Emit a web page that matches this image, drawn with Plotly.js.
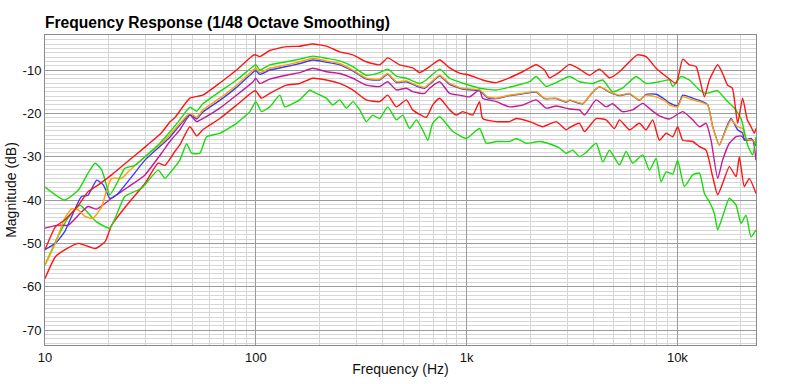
<!DOCTYPE html>
<html><head><meta charset="utf-8">
<script src="https://cdn.plot.ly/plotly-3.0.1.min.js"></script>
<style>html,body{margin:0;padding:0;background:#fff}#chart{width:789px;height:384px}</style>
</head><body><div id="chart"></div>
<script>
// [frequency Hz, magnitude dB]
const redTop = [[10,-51.5],[11.2,-46.2],[12.4,-44.6],[14.4,-41.2],[16.0,-38.1],[17.9,-36.5],[20.7,-34.2],[24.8,-31.0],[30.3,-27.5],[35.7,-24.5],[39.1,-22.0],[41.3,-21.0],[48.7,-16.5],[56.1,-15.8],[67.5,-13.0],[81.0,-10.0],[97.1,-6.6],[100,-6.5],[104.5,-6.9],[116.5,-5.5],[139.8,-4.6],[161.7,-4.5],[186.3,-4.0],[216.3,-4.5],[250.1,-5.8],[288.2,-6.5],[334.6,-8.1],[387,-8.8],[422.3,-7.2],[481,-8.8],[555,-9.5],[599,-10.6],[668,-9.2],[745,-7.7],[831,-9.5],[926,-10.7],[1033,-11.2],[1191,-12.3],[1383,-12.9],[1599,-11.8],[1843,-10.4],[2139,-8.8],[2343,-10],[2474,-11.8],[2760,-10.5],[3077,-8.7],[3432,-9.8],[3828,-11.2],[4270,-9.8],[4762,-11.8],[5311,-10.4],[5922,-8.1],[6463,-6.5],[7108,-6.9],[7927,-9.6],[8843,-11.5],[9858,-13.1],[10600,-7.5],[11400,-8.8],[12260,-9.2],[13430,-16.2],[14180,-12.3],[15530,-8.8],[16390,-10.8],[17310,-13.5],[18230,-14.2],[19310,-22.3],[20390,-16.5],[21460,-21.5],[22350,-23.1],[23170,-24.6],[23600,-23.5]];

const greenTop = [[10,-37],[12.4,-40],[14.4,-37.7],[16.0,-33.8],[17.3,-31.5],[18.6,-33.1],[20.3,-38.8],[21.9,-36.2],[23.9,-32.7],[26.7,-32],[29.8,-30],[34.4,-27.3],[39.1,-24.3],[43.6,-21.5],[48.7,-18.6],[52.4,-19.5],[56.1,-17.8],[67.5,-15],[81.0,-12.3],[97.1,-9.2],[100,-8.8],[104.5,-10],[116.5,-8.8],[139.8,-8.1],[161.7,-7.5],[186.3,-6.8],[216.3,-7.3],[250.1,-7.9],[288.2,-9.2],[334.6,-11.2],[387,-10.6],[422.3,-9.8],[464.4,-11.4],[518,-11.9],[599,-13.1],[644,-12.3],[745,-9.8],[831,-11.9],[957,-13],[1152,-14.2],[1383,-14.6],[1652,-13.8],[1990,-12.7],[2139,-11.5],[2386,-13.8],[2661,-12.9],[3077,-11.5],[3432,-12.7],[3969,-13.1],[4426,-12.3],[4920,-15],[5488,-14.2],[6372,-11.5],[7108,-13.1],[8216,-12.7],[9166,-12.3],[9500,-13.8],[10410,-11.5],[11400,-12.3],[12720,-14.6],[13680,-15.4],[15530,-14.8],[17010,-16.9],[18630,-18.8],[20040,-21.2],[21530,-27.3],[22750,-29.6],[23600,-25.4]];

const blueMid = [[10,-51.5],[10.2,-51.2],[11.2,-50],[12.4,-47.3],[13.9,-42],[14.9,-39.2],[16.0,-38.9],[17.6,-35.4],[18.9,-36.5],[20.3,-39.6],[21.9,-38.8],[25.8,-34.6],[29.8,-30.8],[35.7,-27.3],[39.1,-25.5],[48.7,-20.3],[52.4,-21.3],[56.1,-19.7],[67.5,-17],[81.0,-14],[97.1,-10.5],[100,-10.1],[104.5,-11],[116.5,-10],[139.8,-9.2],[161.7,-8.5],[186.3,-7.7],[216.3,-8.2],[250.1,-8.8],[288.2,-10.2],[334.6,-12.1],[387,-12.3],[422.3,-11],[464.4,-12.9],[518,-12.7],[577.8,-13.7],[632.4,-14.2],[667.8,-13.3],[744.7,-11.4],[830.6,-13.3],[957,-14.4],[1152,-14.8],[1258,-16.4],[1383,-16.6],[1599,-15.9],[1843,-15.5],[2139,-15.1],[2343,-16.6],[2661,-16.6],[2969,-17.4],[3077,-17],[3557,-17.8],[3969,-15.1],[4270,-13.9],[4762,-15.1],[5311,-15.9],[5922,-15.5],[6606,-17],[7108,-15.6],[7927,-15.6],[8843,-17],[9166,-17.6],[10030,-18.3],[10600,-15.8],[11820,-16.5],[12720,-17],[13920,-18],[14700,-23],[15820,-27.3],[17010,-23.5],[17970,-21.2],[19310,-23.8],[20390,-24.5],[20770,-26.2],[22350,-25.8],[23600,-27.5]];

const orangeMid = [[10,-55],[11.2,-50],[12.4,-44.2],[13.4,-42],[14.4,-42.3],[15.5,-43.8],[16.9,-44.2],[18.6,-41.5],[19.6,-37.7],[20.7,-35],[23.1,-35],[24.8,-33.5],[29.8,-30],[35.7,-26.9],[39.1,-25],[48.7,-20],[52.4,-20.9],[56.1,-19.2],[67.5,-16.5],[81.0,-13.5],[97.1,-10],[100,-9.6],[104.5,-10.6],[116.5,-9.6],[139.8,-8.8],[161.7,-8.1],[186.3,-7.3],[216.3,-7.9],[250.1,-8.5],[288.2,-10],[334.6,-11.9],[387,-12.1],[422.3,-10.8],[464.4,-12.7],[518,-12.5],[577.8,-13.5],[632.4,-14],[667.8,-13.1],[744.7,-11.2],[830.6,-13.1],[957,-14.2],[1152,-14.6],[1258,-16.2],[1383,-16.5],[1599,-15.8],[1843,-15.4],[2139,-15],[2343,-16.5],[2661,-16.5],[2969,-17.3],[3077,-16.9],[3557,-17.7],[3969,-15],[4270,-13.8],[4762,-15],[5311,-15.8],[5922,-15.4],[6606,-16.9],[7108,-15.8],[7927,-16.2],[8843,-17.3],[9166,-18.1],[10030,-18.5],[10600,-16.2],[11820,-16.9],[12720,-17.3],[13920,-18.1],[14700,-23.1],[15820,-27.3],[17010,-23.8],[17970,-21.5],[19310,-23.1],[20390,-23.5],[21160,-25.8],[22350,-26.2],[23600,-26.9]];

const magenta = [[10,-46.5],[11.6,-45.8],[12.9,-45.8],[14.4,-43.5],[16.0,-41.5],[17.6,-42.1],[20.7,-39.6],[24.8,-37],[29.8,-34.2],[35.7,-29.2],[39.1,-26.5],[43.6,-23.8],[48.7,-20.4],[52.4,-21.9],[56.1,-21.2],[67.5,-18.8],[81.0,-15.8],[97.1,-12.7],[100,-11.9],[104.5,-13.1],[116.5,-12.1],[139.8,-11.2],[161.7,-10.6],[186.3,-9.6],[216.3,-10.4],[250.1,-10.8],[288.2,-11.9],[334.6,-13.5],[387,-13.8],[422.3,-12.7],[464.4,-14.6],[518,-14.2],[554.9,-15],[632.4,-15.4],[667.8,-14.2],[744.7,-12.7],[830.6,-15.4],[926.4,-15.8],[1033,-16.2],[1152,-14.6],[1191,-16.5],[1383,-17.3],[1599,-18.5],[1843,-18.1],[2139,-16.9],[2386,-18.8],[2661,-18.3],[3077,-19],[3432,-19.2],[3624,-20.4],[4119,-16.9],[4593,-18.5],[4920,-17.8],[5488,-19.6],[6140,-19.2],[6848,-17.7],[7506,-19.2],[8216,-20.6],[9166,-21.3],[10600,-19.6],[11820,-21.5],[12720,-23.1],[13680,-22.3],[14440,-26.2],[15530,-35],[16390,-30.8],[17640,-26.9],[18980,-25.4],[20040,-25.2],[21160,-26.2],[22750,-26.2],[23600,-30.8]];

const redLow = [[10,-58.1],[11.2,-53.1],[12.4,-51.5],[14.4,-50],[17.3,-51.2],[19.3,-49.6],[20.7,-45.8],[24.8,-40.8],[29.8,-36.2],[34.4,-31.5],[37.1,-32],[41.3,-28.8],[43.6,-27.3],[48.7,-23.1],[52.4,-25.2],[56.1,-23.8],[67.5,-21.2],[81.0,-18.1],[97.1,-15],[100,-14.8],[106.4,-16.5],[116.5,-15.4],[139.8,-13.5],[161.7,-13.1],[186.3,-11.9],[216.3,-12.3],[250.1,-13.1],[288.2,-14.6],[334.6,-16.9],[387,-17.3],[422.3,-15.8],[464.4,-18.5],[518,-16.9],[554.9,-19.2],[644.3,-20.9],[690.1,-18.1],[744.7,-16.5],[830.6,-19.2],[893.6,-20.4],[957.2,-19.6],[1068,-20.4],[1152,-17.3],[1191,-21.2],[1383,-21.9],[1599,-21.9],[1720,-21.2],[1990,-21.9],[2299,-23.1],[2661,-21.9],[2969,-23.8],[3077,-23.3],[3432,-22.3],[3624,-24.2],[4119,-21.2],[4593,-21.5],[5028,-23.5],[5311,-21.5],[5922,-23.8],[6606,-22.3],[7108,-23.8],[7638,-21.5],[8216,-26.2],[8843,-24.6],[9500,-25.4],[10030,-23.1],[10600,-26.2],[11820,-26.5],[12720,-27.7],[13680,-28.5],[14700,-34.6],[15530,-38.8],[16390,-36.2],[17640,-32.3],[18980,-34.6],[19670,-30],[20770,-36.9],[21930,-35],[23600,-38.5]];

const greenLow = [[10,-55],[11.5,-48.5],[12.9,-44],[14.65,-41.2],[16,-43],[17.5,-45],[20.3,-46.5],[23.9,-39.2],[28.7,-37.3],[34.4,-33.1],[37.1,-35],[39.1,-33.8],[43.6,-30.8],[47,-27],[49.6,-29.2],[54.3,-29.2],[58.4,-25.4],[67.5,-24.6],[81,-22.3],[93.7,-19.6],[100,-17.3],[106.4,-19.6],[116.5,-18.5],[130,-15.8],[137.3,-18.5],[156,-17.3],[161.7,-16.9],[180.3,-14.6],[186.3,-15],[216.3,-16.5],[231.7,-18.1],[250.1,-16.9],[269.1,-18.8],[289.2,-17.3],[311.1,-19.2],[334.6,-21.9],[358.5,-20.4],[387,-21.2],[422.3,-18.5],[464.4,-21.5],[497.5,-20.4],[537,-23.5],[577.8,-21.5],[618.8,-23.8],[655.6,-26.2],[690.1,-22.3],[744.7,-20.8],[861,-24.2],[997,-25.8],[1152,-23.5],[1240,-26.9],[1383,-26.5],[1599,-26.5],[1720,-25.8],[1919,-26.9],[2218,-26.5],[2564,-27.3],[2760,-28],[2969,-29.2],[3190,-28.5],[3432,-30],[3692,-29],[4119,-26.9],[4426,-31.2],[4762,-28.5],[5311,-31.9],[5713,-28.8],[6140,-31.5],[6848,-29.6],[7368,-33.1],[7927,-30.4],[8370,-35.8],[8843,-33.5],[9500,-34],[10030,-30.8],[10790,-36.9],[11820,-34.2],[12720,-33.8],[13430,-38.5],[14180,-40.4],[14980,-43.1],[15530,-46.9],[16390,-43.8],[17640,-39.6],[18980,-41.2],[20040,-45.4],[21160,-43.5],[22350,-48.5],[23600,-46.9]];

const xTickVals = [10, 100, 1000, 10000];
const xTickText = ['10', '100', '1k', '10k'];
const yTickVals = [-70, -60, -50, -40, -30, -20, -10];
const yTickText = ['-70', '-60', '-50', '-40', '-30', '-20', '-10'];

const series = [
  {d: redLow, c: '#ff1414'},
  {d: greenLow, c: '#17dc0a'},
  {d: magenta, c: '#c41a96'},
  {d: blueMid, c: '#3a3aff'},
  {d: orangeMid, c: '#ffa200'},
  {d: greenTop, c: '#17dc0a'},
  {d: redTop, c: '#ff1414'}
];

const traces = series.map(s => ({
  x: s.d.map(p => p[0]),
  y: s.d.map(p => p[1]),
  type: 'scatter', mode: 'lines',
  line: {color: s.c, width: 1.4, shape: 'spline', smoothing: 0.5},
  hoverinfo: 'skip'
}));

const minorX = [];
[10, 100, 1000, 10000].forEach(dec => { for (let k = 2; k <= 9; k++) minorX.push(dec * k); });

const layout = {
  width: 789, height: 384,
  margin: {l: 45, r: 33, t: 35, b: 39},
  paper_bgcolor: '#fff', plot_bgcolor: '#fff',
  showlegend: false,
  font: {family: 'Liberation Sans, Arial, sans-serif', color: '#111', size: 13},
  title: {
    text: '<b>Frequency Response (1/48 Octave Smoothing)</b>',
    font: {family: 'Liberation Sans, Arial, sans-serif', size: 15.6, color: '#000'},
    x: 45/789, xref: 'container', xanchor: 'left',
    y: 1 - 23/384, yref: 'container', yanchor: 'middle'
  },
  xaxis: {
    type: 'log', range: [1, Math.log10(23600)],
    tickvals: xTickVals, ticktext: xTickText,
    showgrid: true, gridcolor: '#9a9a9a', gridwidth: 1,
    minor: {tickvals: minorX, showgrid: true, gridcolor: '#d6d6d6', gridwidth: 1, ticks: ''},
    showline: true, linecolor: '#8a8a8a', mirror: true, linewidth: 1,
    ticks: '', zeroline: false,
    tickfont: {size: 13, color: '#111'},
    title: {text: 'Frequency (Hz)', font: {size: 14, color: '#111'}, standoff: 0}
  },
  yaxis: {
    range: [-73.46, -1.92],
    tickvals: yTickVals, ticktext: yTickText,
    showgrid: true, gridcolor: '#9a9a9a', gridwidth: 1,
    minor: {dtick: 1, showgrid: true, gridcolor: '#d6d6d6', gridwidth: 1, ticks: ''},
    showline: true, linecolor: '#8a8a8a', mirror: true, linewidth: 1,
    ticks: '', zeroline: false,
    tickfont: {size: 13, color: '#111'},
    title: {text: 'Magnitude (dB)', font: {size: 14, color: '#111'}, standoff: 2}
  }
};

Plotly.newPlot('chart', traces, layout, {displayModeBar: false, staticPlot: true});
</script>
</body></html>
